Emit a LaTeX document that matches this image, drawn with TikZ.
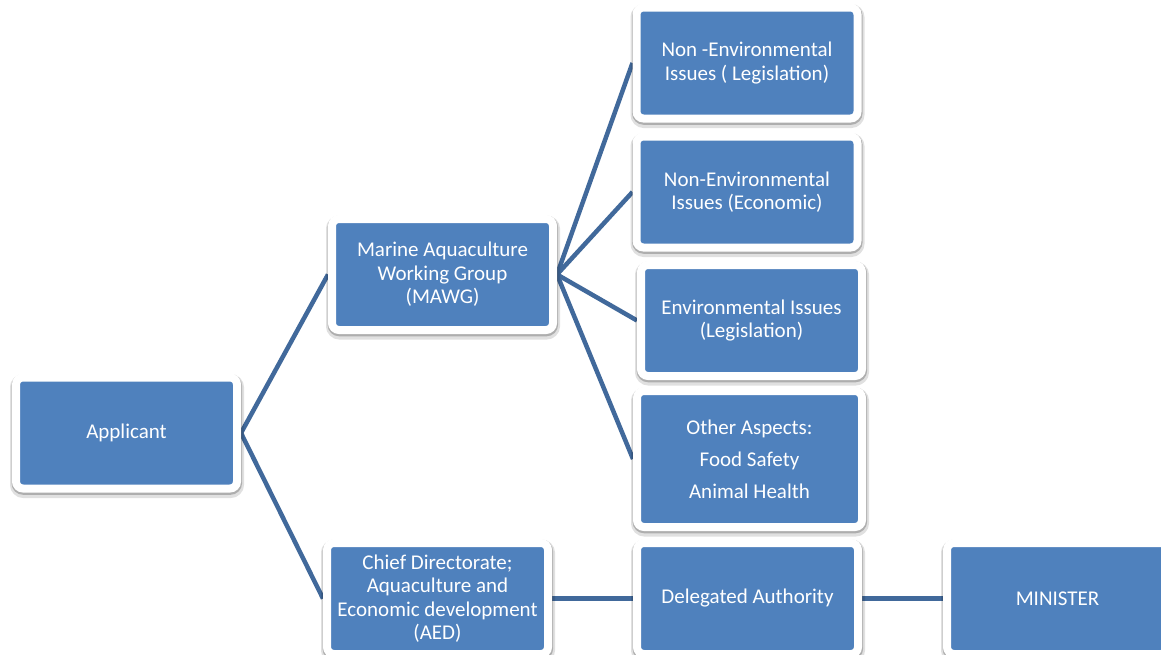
\documentclass[tikz,border=0pt]{standalone}
\usepackage{fontspec}
\setmainfont{Carlito}
\usetikzlibrary{shadows,backgrounds}
\definecolor{boxblue}{HTML}{4F81BD}
\definecolor{linkblue}{HTML}{41699B}
\begin{document}
\begin{tikzpicture}[x=1pt,y=-1pt,
  box/.style={rectangle, rounded corners=7pt, fill=boxblue, draw=white, line width=8pt,
    text=white, align=center, minimum width=221pt, minimum height=111pt, inner sep=0pt,
    font=\fontsize{21}{23.5}\selectfont,
    drop shadow={shadow xshift=0.5pt, shadow yshift=-3pt, opacity=0.12, fill=black, draw=black, line width=13pt},
    drop shadow={shadow xshift=0.3pt, shadow yshift=-1.5pt, opacity=0.22, fill=black, draw=black, line width=9.5pt}},
  link/.style={draw=linkblue, line width=4.5pt}]
\useasboundingbox (0,0) rectangle (1161,654);
\clip (0,0) rectangle (1161,654);
\node[box] (app) at (126.5,433) {Applicant};
\node[box] (mawg) at (442.5,274.5) {Marine Aquaculture\\Working Group\\(MAWG)};
\node[box] (nel) at (747,63) {Non -Environmental\\Issues ( Legislation)};
\node[box] (nee) at (747,192) {Non-Environmental\\Issues (Economic)};
\node[box] (env) at (751.5,320.5) {Environmental Issues\\(Legislation)};
\node[box, minimum width=225pt, minimum height=136pt, font=\fontsize{21}{32}\selectfont] (oth) at (749.5,459) {Other Aspects:\\Food Safety\\Animal Health};
\node[box] (chief) at (437.5,598.5) {Chief Directorate;\\Aquaculture and\\Economic development\\(AED)};
\node[box] (del) at (747.5,598.5) {Delegated Authority};
\node[box] (min) at (1057.5,598.5) {MINISTER};
\begin{pgfonlayer}{background}
\fill[white] (0,0) rectangle (1161,654);
\draw[link] (app.east) -- (mawg.west);
\draw[link] (app.east) -- (chief.west);
\draw[link] (mawg.east) -- (nel.west);
\draw[link] (mawg.east) -- (nee.west);
\draw[link] (mawg.east) -- (env.west);
\draw[link] (mawg.east) -- (oth.west);
\draw[link] (chief.east) -- (del.west);
\draw[link] (del.east) -- (min.west);
\end{pgfonlayer}
\end{tikzpicture}
\end{document}
